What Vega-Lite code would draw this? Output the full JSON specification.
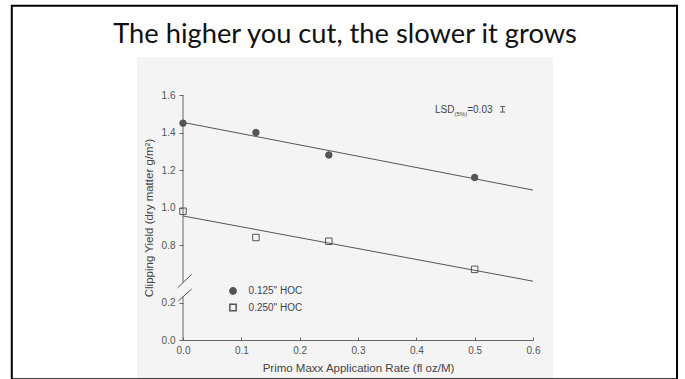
{
  "$schema": "https://vega.github.io/schema/vega-lite/v6.json",
  "width": 350,
  "height": 245,
  "autosize": {"type": "none"},
  "padding": {"left": 183, "top": 95, "right": 152, "bottom": 39},
  "background": "white",
  "title": {
    "text": "The higher you cut, the slower it grows",
    "font": "Lato",
    "fontSize": 27.3,
    "fontWeight": "normal",
    "color": "#111111",
    "anchor": "middle",
    "frame": "group",
    "dx": -13,
    "offset": -43
  },
  "config": {"view": {"stroke": null}},
  "layer": [
    {
      "data": {"values": [{"x": -0.0789, "x2": 0.6343, "y": 1.8027, "y2": -0.24}]},
      "mark": {"type": "rect", "fill": "#f4f4f4"},
      "encoding": {
        "x": {
          "field": "x", "type": "quantitative",
          "title": "Primo Maxx Application Rate (fl oz/M)",
          "scale": {"domain": [0, 0.6], "nice": false, "zero": false},
          "axis": {
            "values": [0, 0.1, 0.2, 0.3, 0.4, 0.5, 0.6],
            "format": ".1f",
            "title": "Primo Maxx Application Rate (fl oz/M)",
            "grid": false,
            "labelFlush": false,
            "domainColor": "#666666",
            "tickColor": "#666666",
            "tickSize": -3,
            "labelPadding": 8,
            "labelFont": "Liberation Sans",
            "labelFontSize": 10,
            "labelColor": "#555555",
            "titleFont": "Liberation Sans",
            "titleFontSize": 11.5,
            "titleFontWeight": "normal",
            "titleColor": "#444444",
            "titlePadding": 7,
            "zindex": 1
          }
        },
        "x2": {"field": "x2"},
        "y": {
          "field": "y", "type": "quantitative",
          "title": "Clipping Yield (dry matter g/m²)",
          "scale": {"domain": [0, 0.2, 0.6, 1.6], "range": [245, 207.5, 187.5, 0], "nice": false, "zero": false},
          "axis": {
            "values": [0, 0.2, 0.8, 1.0, 1.2, 1.4, 1.6],
            "format": ".1f",
            "title": "Clipping Yield (dry matter g/m²)",
            "grid": false,
            "labelFlush": false,
            "domain": false,
            "tickColor": "#666666",
            "tickSize": 4,
            "labelPadding": 4,
            "labelFont": "Liberation Sans",
            "labelFontSize": 10,
            "labelColor": "#555555",
            "titleFont": "Liberation Sans",
            "titleFontSize": 11.5,
            "titleFontWeight": "normal",
            "titleColor": "#444444",
            "titlePadding": 7,
            "zindex": 1
          }
        },
        "y2": {"field": "y2"}
      }
    },
    {
      "data": {"values": [{"x": -0.2935, "x2": 0.8469, "y": 2.0757, "y2": -0.2096}]},
      "mark": {"type": "rect", "fill": null, "stroke": "#000000", "strokeWidth": 2},
      "encoding": {
        "x": {"field": "x", "type": "quantitative", "title": "Primo Maxx Application Rate (fl oz/M)"},
        "x2": {"field": "x2"},
        "y": {"field": "y", "type": "quantitative", "title": "Clipping Yield (dry matter g/m²)"},
        "y2": {"field": "y2"}
      }
    },
    {
      "data": {"values": [{"x": 0, "y": 1.6, "y2": 0.6}, {"x": 0, "y": 0.32, "y2": 0}]},
      "mark": {"type": "rule", "color": "#666666", "strokeWidth": 1},
      "encoding": {
        "x": {"field": "x", "type": "quantitative", "title": "Primo Maxx Application Rate (fl oz/M)"},
        "y": {"field": "y", "type": "quantitative", "title": "Clipping Yield (dry matter g/m²)"},
        "y2": {"field": "y2"}
      }
    },
    {
      "data": {"values": [{"x": -0.0091, "y": 0.496, "x2": 0.0149, "y2": 0.644}, {"x": -0.008, "y": 0.23, "x2": 0.0149, "y2": 0.47}]},
      "mark": {"type": "rule", "color": "#555555", "strokeWidth": 1},
      "encoding": {
        "x": {"field": "x", "type": "quantitative", "title": "Primo Maxx Application Rate (fl oz/M)"},
        "x2": {"field": "x2"},
        "y": {"field": "y", "type": "quantitative", "title": "Clipping Yield (dry matter g/m²)"},
        "y2": {"field": "y2"}
      }
    },
    {
      "data": {"values": [
        {"hoc": "0.125\" HOC", "x": 0, "y": 1.454},
        {"hoc": "0.125\" HOC", "x": 0.6, "y": 1.093},
        {"hoc": "0.250\" HOC", "x": 0, "y": 0.955},
        {"hoc": "0.250\" HOC", "x": 0.6, "y": 0.607}
      ]},
      "mark": {"type": "line", "color": "#555555", "strokeWidth": 1},
      "encoding": {
        "x": {"field": "x", "type": "quantitative", "title": "Primo Maxx Application Rate (fl oz/M)"},
        "y": {"field": "y", "type": "quantitative", "title": "Clipping Yield (dry matter g/m²)"},
        "detail": {"field": "hoc"}
      }
    },
    {
      "data": {"values": [
        {"hoc": "0.125\" HOC", "x": 0, "y": 1.45},
        {"hoc": "0.125\" HOC", "x": 0.125, "y": 1.40},
        {"hoc": "0.125\" HOC", "x": 0.25, "y": 1.28},
        {"hoc": "0.125\" HOC", "x": 0.5, "y": 1.16},
        {"hoc": "0.250\" HOC", "x": 0, "y": 0.98},
        {"hoc": "0.250\" HOC", "x": 0.125, "y": 0.84},
        {"hoc": "0.250\" HOC", "x": 0.25, "y": 0.82},
        {"hoc": "0.250\" HOC", "x": 0.5, "y": 0.67}
      ]},
      "mark": {"type": "point", "filled": true, "stroke": "#555555", "strokeWidth": 1, "size": 42, "opacity": 1},
      "encoding": {
        "x": {"field": "x", "type": "quantitative", "title": "Primo Maxx Application Rate (fl oz/M)"},
        "y": {"field": "y", "type": "quantitative", "title": "Clipping Yield (dry matter g/m²)"},
        "shape": {
          "field": "hoc", "type": "nominal",
          "scale": {"range": ["circle", "square"]},
          "legend": {
            "orient": "none", "legendX": 45, "legendY": 191, "title": null,
            "labelFont": "Liberation Sans", "labelFontSize": 10, "labelColor": "#444444",
            "symbolSize": 40, "labelOffset": 10.6, "rowPadding": 2.5, "padding": 0,
            "encode": {"symbols": {"update": {"stroke": {"value": "#555555"}, "strokeWidth": {"value": 1}}}}
          }
        },
        "fill": {
          "field": "hoc", "type": "nominal",
          "scale": {"range": ["#555555", "transparent"]},
          "legend": {
            "orient": "none", "legendX": 45, "legendY": 191, "title": null,
            "labelFont": "Liberation Sans", "labelFontSize": 10, "labelColor": "#444444",
            "symbolSize": 40, "labelOffset": 10.6, "rowPadding": 2.5, "padding": 0,
            "encode": {"symbols": {"update": {"stroke": {"value": "#555555"}, "strokeWidth": {"value": 1}}}}
          }
        }
      }
    },
    {
      "data": {"values": [{"x": 0.432, "y": 1.504, "t": "LSD"}, {"x": 0.4872, "y": 1.504, "t": "=0.03"}]},
      "mark": {"type": "text", "align": "left", "baseline": "alphabetic", "font": "Liberation Sans", "fontSize": 10, "color": "#444444"},
      "encoding": {
        "x": {"field": "x", "type": "quantitative", "title": "Primo Maxx Application Rate (fl oz/M)"},
        "y": {"field": "y", "type": "quantitative", "title": "Clipping Yield (dry matter g/m²)"},
        "text": {"field": "t"}
      }
    },
    {
      "data": {"values": [{"x": 0.4654, "y": 1.488, "t": "(5%)"}]},
      "mark": {"type": "text", "align": "left", "baseline": "alphabetic", "font": "Liberation Sans", "fontSize": 6, "color": "#444444"},
      "encoding": {
        "x": {"field": "x", "type": "quantitative", "title": "Primo Maxx Application Rate (fl oz/M)"},
        "y": {"field": "y", "type": "quantitative", "title": "Clipping Yield (dry matter g/m²)"},
        "text": {"field": "t"}
      }
    },
    {
      "data": {"values": [
        {"x": 0.548, "x2": 0.548, "y": 1.509, "y2": 1.539},
        {"x": 0.5437, "x2": 0.5523, "y": 1.509, "y2": 1.509},
        {"x": 0.5437, "x2": 0.5523, "y": 1.539, "y2": 1.539}
      ]},
      "mark": {"type": "rule", "color": "#555555", "strokeWidth": 1},
      "encoding": {
        "x": {"field": "x", "type": "quantitative", "title": "Primo Maxx Application Rate (fl oz/M)"},
        "x2": {"field": "x2"},
        "y": {"field": "y", "type": "quantitative", "title": "Clipping Yield (dry matter g/m²)"},
        "y2": {"field": "y2"}
      }
    }
  ]
}
